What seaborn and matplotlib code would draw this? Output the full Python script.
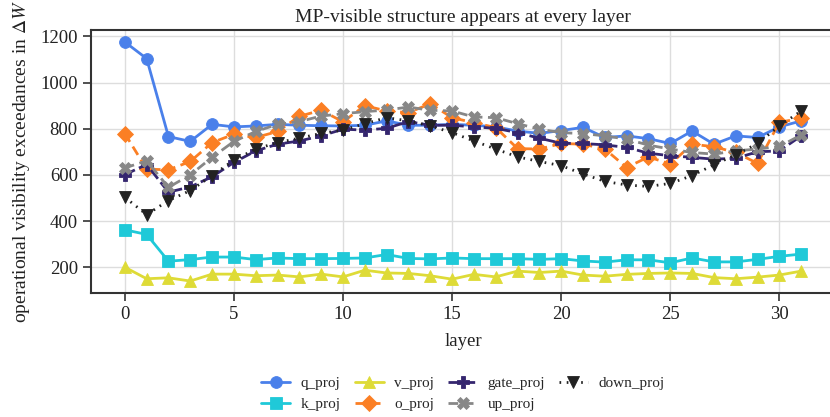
import numpy as np
import pandas as pd
import seaborn as sns
import matplotlib
matplotlib.use("Agg")
import matplotlib.pyplot as plt

layers = list(range(32))

q_proj = [1176, 1104, 766, 745, 819, 808, 812, 819, 815, 813, 812, 815, 834, 815, 815, 819,
          815, 808, 790, 780, 792, 806, 762, 769, 757, 736, 790, 733, 769, 762, 808, 834]
k_proj = [362, 342, 226, 233, 244, 244, 233, 240, 237, 237, 238, 240, 255, 238, 236, 240,
          237, 237, 237, 234, 237, 227, 222, 232, 232, 219, 240, 223, 223, 234, 247, 257]
v_proj = [200, 150, 154, 140, 170, 170, 163, 166, 158, 170, 158, 187, 175, 173, 163, 148,
          169, 158, 183, 177, 183, 166, 161, 169, 173, 175, 173, 155, 150, 157, 166, 183]
o_proj = [779, 625, 622, 658, 740, 776, 762, 788, 854, 880, 830, 900, 877, 870, 908, 848,
          826, 805, 714, 712, 736, 733, 712, 632, 678, 647, 733, 722, 697, 650, 828, 845]
gate_proj = [601, 645, 525, 548, 592, 654, 704, 733, 747, 769, 798, 794, 802, 831, 815, 815,
             808, 802, 783, 759, 737, 736, 730, 719, 694, 683, 676, 668, 672, 700, 704, 769]
up_proj = [630, 661, 546, 600, 676, 745, 788, 819, 831, 855, 865, 874, 881, 894, 880, 877,
           851, 848, 822, 798, 783, 779, 769, 755, 729, 712, 697, 690, 704, 712, 723, 773]
down_proj = [503, 428, 489, 532, 597, 664, 712, 740, 759, 780, 794, 822, 848, 834, 812, 783,
             747, 712, 678, 658, 640, 604, 572, 556, 550, 563, 597, 644, 687, 736, 812, 877]

modules = ["q_proj", "k_proj", "v_proj", "o_proj", "gate_proj", "up_proj", "down_proj"]
series = [q_proj, k_proj, v_proj, o_proj, gate_proj, up_proj, down_proj]

palette = {
    "q_proj": "#4a80ea",
    "k_proj": "#1fc9d8",
    "v_proj": "#dedb37",
    "o_proj": "#fb7f24",
    "gate_proj": "#35266f",
    "up_proj": "#878787",
    "down_proj": "#222222",
}
markers = {
    "q_proj": "o", "k_proj": "s", "v_proj": "^", "o_proj": "D",
    "gate_proj": "P", "up_proj": "X", "down_proj": "v",
}
dashes = {
    "q_proj": "", "k_proj": "", "v_proj": "",
    "o_proj": (3.5, 2), "gate_proj": (4, 1.6), "up_proj": (3.5, 2),
    "down_proj": (0.6, 2),
}

df = pd.DataFrame({
    "layer": np.tile(layers, len(modules)),
    "count": np.concatenate(series),
    "module": np.repeat(modules, len(layers)),
})

sns.set_theme(style="whitegrid")
plt.rcParams.update({
    "font.family": ["Liberation Serif", "DejaVu Serif"],
    "mathtext.fontset": "stix",
    "axes.edgecolor": "#333333",
    "axes.linewidth": 1.5,
    "xtick.bottom": True,
    "ytick.left": True,
    "xtick.major.size": 6,
    "ytick.major.size": 6,
    "xtick.major.width": 1.2,
    "ytick.major.width": 1.2,
    "xtick.color": "#333333",
    "ytick.color": "#333333",
    "grid.color": "#dddddd",
    "grid.linewidth": 1.0,
})

fig = plt.figure(figsize=(8.3, 4.17), dpi=100)
ax = fig.add_axes([91 / 830, (417 - 293) / 417, 744 / 830, 263 / 417])

sns.lineplot(
    data=df, x="layer", y="count", hue="module", style="module",
    hue_order=modules, style_order=modules,
    palette=palette, markers=markers, dashes=dashes,
    linewidth=2.0, markersize=8.5, markeredgewidth=0.6, ax=ax,
)
for line in ax.get_lines():
    line.set_markeredgecolor(line.get_color())

ax.set_xticks([0, 5, 10, 15, 20, 25, 30])
ax.tick_params(labelsize=13.5, colors="#333333", labelcolor="#222222")
ax.set_xlabel("layer", fontsize=13.5, color="#222222", labelpad=7)
ax.set_ylabel(r"operational visibility exceedances in $\Delta W$", fontsize=14,
              color="#222222", labelpad=6)
ax.set_title("MP-visible structure appears at every layer", fontsize=14,
             color="#222222", pad=6)

handles, labels = ax.get_legend_handles_labels()
for h in handles:
    h.set_markeredgecolor(h.get_color())
ax.legend(handles, labels, loc="upper center", bbox_to_anchor=(0.5, -0.265),
          ncol=4, frameon=False, fontsize=11, handlelength=1.9,
          columnspacing=0.9, handletextpad=0.7, labelspacing=0.5)

fig.savefig("out.png", dpi=100)
